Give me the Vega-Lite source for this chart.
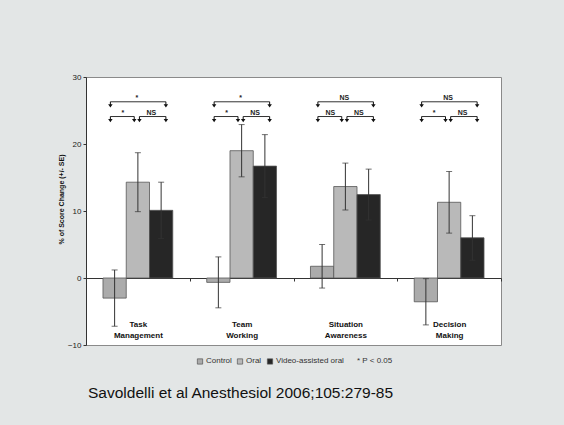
{
  "$schema": "https://vega.github.io/schema/vega-lite/v6.json",
  "width": 415,
  "height": 268,
  "autosize": {"type": "none"},
  "padding": {"left": 86, "top": 77, "right": 63, "bottom": 80},
  "background": "#e3e6e6",
  "config": {
    "font": "Liberation Sans",
    "view": {"fill": "white", "stroke": "#8a8a8a", "strokeWidth": 1},
    "axis": {"grid": false}
  },
  "title": {
    "text": "Savoldelli et al Anesthesiol 2006;105:279-85",
    "orient": "bottom",
    "anchor": "start",
    "frame": "group",
    "font": "Liberation Sans",
    "fontSize": 15.5,
    "fontWeight": "normal",
    "color": "#111",
    "offset": 20,
    "dx": 2
  },
  "datasets": {
    "scores": [
      {"group": "Task Management", "series": "Control", "mean": -3.0, "lo": -7.2, "hi": 1.2},
      {"group": "Task Management", "series": "Oral", "mean": 14.3, "lo": 9.9, "hi": 18.7},
      {"group": "Task Management", "series": "Video-assisted oral", "mean": 10.1, "lo": 5.9, "hi": 14.3},
      {"group": "Team Working", "series": "Control", "mean": -0.65, "lo": -4.45, "hi": 3.15},
      {"group": "Team Working", "series": "Oral", "mean": 19.0, "lo": 15.1, "hi": 22.9},
      {"group": "Team Working", "series": "Video-assisted oral", "mean": 16.7, "lo": 12.0, "hi": 21.4},
      {"group": "Situation Awareness", "series": "Control", "mean": 1.75, "lo": -1.5, "hi": 5.0},
      {"group": "Situation Awareness", "series": "Oral", "mean": 13.65, "lo": 10.15, "hi": 17.15},
      {"group": "Situation Awareness", "series": "Video-assisted oral", "mean": 12.45, "lo": 8.65, "hi": 16.25},
      {"group": "Decision Making", "series": "Control", "mean": -3.55, "lo": -7.0, "hi": -0.1},
      {"group": "Decision Making", "series": "Oral", "mean": 11.3, "lo": 6.7, "hi": 15.9},
      {"group": "Decision Making", "series": "Video-assisted oral", "mean": 6.0, "lo": 2.65, "hi": 9.3}
    ],
    "brackets": [
      {"group": "Task Management", "cmp": "CV", "result": "*"},
      {"group": "Task Management", "cmp": "CO", "result": "*"},
      {"group": "Task Management", "cmp": "OV", "result": "NS"},
      {"group": "Team Working", "cmp": "CV", "result": "*"},
      {"group": "Team Working", "cmp": "CO", "result": "*"},
      {"group": "Team Working", "cmp": "OV", "result": "NS"},
      {"group": "Situation Awareness", "cmp": "CV", "result": "NS"},
      {"group": "Situation Awareness", "cmp": "CO", "result": "NS"},
      {"group": "Situation Awareness", "cmp": "OV", "result": "NS"},
      {"group": "Decision Making", "cmp": "CV", "result": "NS"},
      {"group": "Decision Making", "cmp": "CO", "result": "*"},
      {"group": "Decision Making", "cmp": "OV", "result": "NS"}
    ]
  },
  "layer": [
    {
      "data": {"name": "scores"},
      "mark": {"type": "bar", "stroke": "#555", "strokeWidth": 0.8},
      "encoding": {
        "x": {
          "field": "group", "type": "nominal", "sort": null,
          "scale": {"domain": ["Task Management", "Team Working", "Situation Awareness", "Decision Making"], "paddingInner": 0, "paddingOuter": 0},
          "axis": {
            "title": null, "orient": "bottom", "offset": -67, "tickBand": "extent",
            "labelAngle": 0, "labelExpr": "split(datum.label, ' ')",
            "labelFont": "Liberation Sans", "labelFontWeight": "bold", "labelFontSize": 8,
            "labelLineHeight": 11, "labelPadding": 39, "labelBaseline": "top", "labelColor": "#111",
            "domainColor": "#333", "tickColor": "#333", "tickSize": 3
          }
        },
        "xOffset": {
          "field": "series", "type": "nominal", "sort": ["Control", "Oral", "Video-assisted oral"],
          "scale": {"paddingInner": 0, "paddingOuter": 0.73}
        },
        "y": {
          "field": "mean", "type": "quantitative",
          "scale": {"domain": [-10, 30], "nice": false},
          "axis": {
            "title": "% of Score Change (+/- SE)", "values": [-10, 0, 10, 20, 30],
            "labelFontSize": 8, "labelColor": "#222", "labelPadding": 2,
            "tickSize": 3, "tickColor": "#333", "domainColor": "#333",
            "titleFontSize": 7, "titleFontWeight": "bold", "titleColor": "#111",
            "titlePadding": 3, "titleY": 122
          }
        },
        "color": {
          "field": "series", "type": "nominal",
          "scale": {"domain": ["Control", "Oral", "Video-assisted oral"], "range": ["#ababab", "#b9b9b9", "#262626"]},
          "legend": {
            "orient": "none", "legendX": 110, "legendY": 280, "direction": "horizontal",
            "title": "* P < 0.05", "titleOrient": "right", "titleFontWeight": "normal",
            "titleFontSize": 8, "titleColor": "#333", "titlePadding": 13, "titleBaseline": "middle",
            "labelFontSize": 8, "labelColor": "#333", "symbolType": "square", "symbolSize": 28,
            "symbolStrokeColor": "#555", "symbolStrokeWidth": 0.7, "columnPadding": 3, "labelOffset": 2
          }
        }
      }
    },
    {
      "data": {"name": "scores"},
      "mark": {"type": "rule", "color": "#333", "strokeWidth": 1},
      "encoding": {
        "x": {"field": "group", "type": "nominal", "sort": null},
        "xOffset": {"field": "series", "type": "nominal", "sort": ["Control", "Oral", "Video-assisted oral"]},
        "y": {"field": "lo", "type": "quantitative"},
        "y2": {"field": "hi"}
      }
    },
    {
      "data": {"name": "scores"},
      "mark": {"type": "tick", "color": "#333", "size": 6, "thickness": 1, "orient": "horizontal"},
      "encoding": {
        "x": {"field": "group", "type": "nominal", "sort": null},
        "xOffset": {"field": "series", "type": "nominal", "sort": ["Control", "Oral", "Video-assisted oral"]},
        "y": {"field": "lo", "type": "quantitative"}
      }
    },
    {
      "data": {"name": "scores"},
      "mark": {"type": "tick", "color": "#333", "size": 6, "thickness": 1, "orient": "horizontal"},
      "encoding": {
        "x": {"field": "group", "type": "nominal", "sort": null},
        "xOffset": {"field": "series", "type": "nominal", "sort": ["Control", "Oral", "Video-assisted oral"]},
        "y": {"field": "hi", "type": "quantitative"}
      }
    },
    {
      "data": {"name": "brackets"},
      "transform": [{"filter": "datum.cmp == 'CV'"}],
      "layer": [
        {
          "mark": {"type": "rule", "color": "#333", "strokeWidth": 1},
          "encoding": {
            "x": {"field": "group", "type": "nominal", "sort": null, "bandPosition": 0.235},
            "x2": {"field": "group", "bandPosition": 0.77},
            "y": {"datum": 26.3}
          }
        },
        {
          "mark": {"type": "text", "fontSize": 7, "fontWeight": "bold", "baseline": "alphabetic", "dy": -1.5, "color": "#222"},
          "encoding": {
            "x": {"field": "group", "type": "nominal", "sort": null, "bandPosition": 0.49},
            "y": {"datum": 26.3},
            "text": {"field": "result"}
          }
        },
        {
          "mark": {"type": "point", "filled": true, "color": "#111", "size": 36, "opacity": 1, "shape": "M-0.17,0 L0.17,0 L0.17,0.85 L0.75,0.85 L0,1.9 L-0.75,0.85 L-0.17,0.85 Z"},
          "encoding": {
            "x": {"field": "group", "type": "nominal", "sort": null, "bandPosition": 0.235},
            "y": {"datum": 26.3}
          }
        },
        {
          "mark": {"type": "point", "filled": true, "color": "#111", "size": 36, "opacity": 1, "shape": "M-0.17,0 L0.17,0 L0.17,0.85 L0.75,0.85 L0,1.9 L-0.75,0.85 L-0.17,0.85 Z"},
          "encoding": {
            "x": {"field": "group", "type": "nominal", "sort": null, "bandPosition": 0.77},
            "y": {"datum": 26.3}
          }
        }
      ]
    },
    {
      "data": {"name": "brackets"},
      "transform": [{"filter": "datum.cmp == 'CO'"}],
      "layer": [
        {
          "mark": {"type": "rule", "color": "#333", "strokeWidth": 1},
          "encoding": {
            "x": {"field": "group", "type": "nominal", "sort": null, "bandPosition": 0.235},
            "x2": {"field": "group", "bandPosition": 0.465},
            "y": {"datum": 24.1}
          }
        },
        {
          "mark": {"type": "text", "fontSize": 7, "fontWeight": "bold", "baseline": "alphabetic", "dy": -1.5, "color": "#222"},
          "encoding": {
            "x": {"field": "group", "type": "nominal", "sort": null, "bandPosition": 0.355},
            "y": {"datum": 24.1},
            "text": {"field": "result"}
          }
        },
        {
          "mark": {"type": "point", "filled": true, "color": "#111", "size": 36, "opacity": 1, "shape": "M-0.17,0 L0.17,0 L0.17,0.85 L0.75,0.85 L0,1.9 L-0.75,0.85 L-0.17,0.85 Z"},
          "encoding": {
            "x": {"field": "group", "type": "nominal", "sort": null, "bandPosition": 0.235},
            "y": {"datum": 24.1}
          }
        },
        {
          "mark": {"type": "point", "filled": true, "color": "#111", "size": 36, "opacity": 1, "shape": "M-0.17,0 L0.17,0 L0.17,0.85 L0.75,0.85 L0,1.9 L-0.75,0.85 L-0.17,0.85 Z"},
          "encoding": {
            "x": {"field": "group", "type": "nominal", "sort": null, "bandPosition": 0.465},
            "y": {"datum": 24.1}
          }
        }
      ]
    },
    {
      "data": {"name": "brackets"},
      "transform": [{"filter": "datum.cmp == 'OV'"}],
      "layer": [
        {
          "mark": {"type": "rule", "color": "#333", "strokeWidth": 1},
          "encoding": {
            "x": {"field": "group", "type": "nominal", "sort": null, "bandPosition": 0.515},
            "x2": {"field": "group", "bandPosition": 0.77},
            "y": {"datum": 24.1}
          }
        },
        {
          "mark": {"type": "text", "fontSize": 7, "fontWeight": "bold", "baseline": "alphabetic", "dy": -1.5, "color": "#222"},
          "encoding": {
            "x": {"field": "group", "type": "nominal", "sort": null, "bandPosition": 0.63},
            "y": {"datum": 24.1},
            "text": {"field": "result"}
          }
        },
        {
          "mark": {"type": "point", "filled": true, "color": "#111", "size": 36, "opacity": 1, "shape": "M-0.17,0 L0.17,0 L0.17,0.85 L0.75,0.85 L0,1.9 L-0.75,0.85 L-0.17,0.85 Z"},
          "encoding": {
            "x": {"field": "group", "type": "nominal", "sort": null, "bandPosition": 0.515},
            "y": {"datum": 24.1}
          }
        },
        {
          "mark": {"type": "point", "filled": true, "color": "#111", "size": 36, "opacity": 1, "shape": "M-0.17,0 L0.17,0 L0.17,0.85 L0.75,0.85 L0,1.9 L-0.75,0.85 L-0.17,0.85 Z"},
          "encoding": {
            "x": {"field": "group", "type": "nominal", "sort": null, "bandPosition": 0.77},
            "y": {"datum": 24.1}
          }
        }
      ]
    }
  ]
}
